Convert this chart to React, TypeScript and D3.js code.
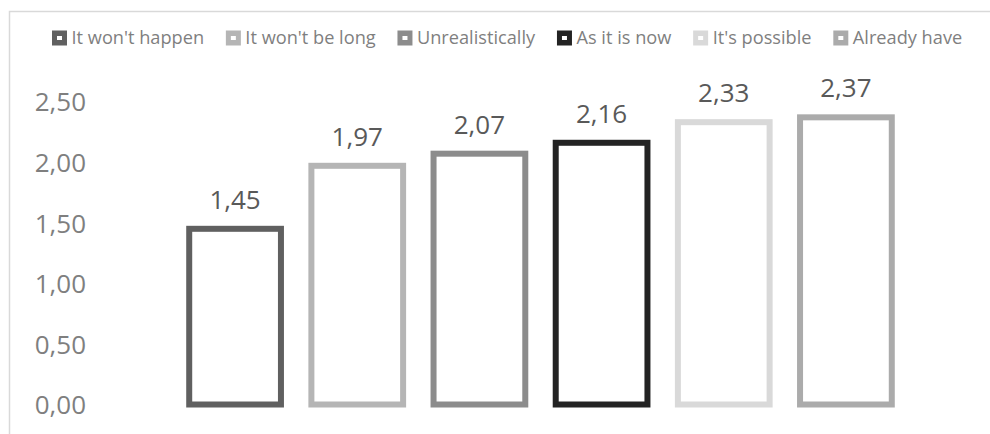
import React, { useEffect, useRef } from "react";
import * as d3 from "d3";

const categories = ["It won't happen", "It won't be long", "Unrealistically", "As it is now", "It's possible", "Already have"];
const values = [1.45, 1.97, 2.07, 2.16, 2.33, 2.37];
const colors = ["#606060", "#b5b5b5", "#8c8c8c", "#232323", "#d9d9d9", "#ababab"];
const yTicks = [0, 0.5, 1, 1.5, 2, 2.5];

const W = 990;
const H = 434;
const FONT = "'Open Sans', sans-serif";

export default function App() {
  const ref = useRef<SVGSVGElement | null>(null);

  useEffect(() => {
    const svg = d3.select(ref.current);
    svg.selectAll("*").remove();

    const plot = { left: 174, right: 907, top: 41, bottom: 404.5 };
    const fmt = (v: number) => v.toFixed(2).replace(".", ",");

    // frame
    svg.append("rect")
      .attr("x", 9.5).attr("y", 11.5)
      .attr("width", W + 20).attr("height", H + 20)
      .attr("fill", "none").attr("stroke", "#d9d9d9").attr("stroke-width", 1.5);

    const x = d3.scaleBand<string>().domain(categories).range([plot.left, plot.right]).paddingInner(0.2).paddingOuter(0.1);
    const y = d3.scaleLinear().domain([0, 3]).range([plot.bottom, plot.top]);

    // y axis labels
    const axis = d3.axisLeft(y).tickValues(yTicks).tickFormat((d) => fmt(d as number)).tickSize(0).tickPadding(0);
    const g = svg.append("g").attr("transform", `translate(86,0)`).call(axis);
    g.select(".domain").remove();
    g.selectAll("text")
      .attr("fill", "#7f7f7f")
      .attr("font-family", FONT)
      .attr("font-size", 26)
      .attr("dy", "0.36em");

    // bars
    const sw = 6;
    svg.append("g").selectAll("rect").data(values).join("rect")
      .attr("x", (_, i) => x(categories[i])! + sw / 2)
      .attr("y", (d) => y(d))
      .attr("width", x.bandwidth() - sw)
      .attr("height", (d) => y(0) - y(d))
      .attr("fill", "none")
      .attr("stroke", (_, i) => colors[i])
      .attr("stroke-width", sw);

    // data labels
    svg.append("g").selectAll("text").data(values).join("text")
      .attr("x", (_, i) => x(categories[i])! + x.bandwidth() / 2)
      .attr("y", (d) => y(d) - 20)
      .attr("text-anchor", "middle")
      .attr("fill", "#595959")
      .attr("font-family", FONT)
      .attr("font-size", 26)
      .text((d) => fmt(d));

    // legend flow layout
    const lg = svg.append("g");
    let cx = 52;
    const ly = 38;
    categories.forEach((c, i) => {
      const item = lg.append("g");
      item.append("rect").attr("x", cx).attr("y", ly - 7.5).attr("width", 15).attr("height", 15).attr("fill", colors[i]);
      item.append("rect").attr("x", cx + 5).attr("y", ly - 2).attr("width", 5).attr("height", 4).attr("fill", "#ffffff");
      const t = item.append("text")
        .attr("x", cx + 19.5).attr("y", ly + 6)
        .attr("fill", "#7f7f7f")
        .attr("font-family", FONT)
        .attr("font-size", 18.2)
        .text(c);
      const len = (t.node() as SVGTextElement).getComputedTextLength();
      cx += 19.5 + len + 21.8;
    });
  }, []);

  return (
    <div style={{ position: "absolute", left: 0, top: 0, width: W, height: H, background: "#fff" }}>
      <svg ref={ref} width={W} height={H} style={{ display: "block" }} />
    </div>
  );
}
